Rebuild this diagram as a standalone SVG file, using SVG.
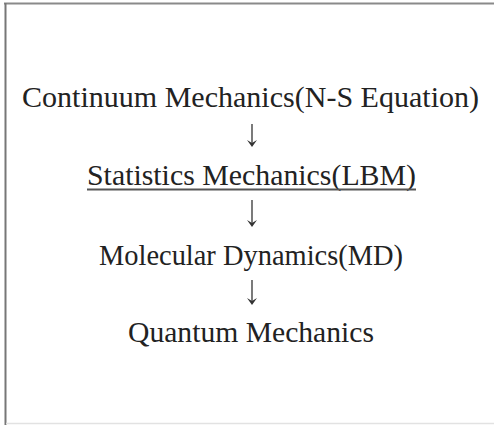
<svg xmlns="http://www.w3.org/2000/svg" width="494" height="425" viewBox="0 0 494 425">
<style>
.t{font-family:"Liberation Serif","Times New Roman",serif;font-size:29px;fill:#222;}
.c{stroke:#333;stroke-width:1.3;fill:none;}
.h{fill:#333;stroke:none;}
</style>
<rect x="0" y="0" width="494" height="425" fill="#fff"/>
<g id="frame">
<line x1="4" y1="3.5" x2="494" y2="3.5" stroke="#8a8a8a" stroke-width="2"/>
<line x1="5.5" y1="3" x2="5.5" y2="425" stroke="#777" stroke-width="2"/>
<line x1="6" y1="423.5" x2="494" y2="423.5" stroke="#e2e2e2" stroke-width="1.5"/>
</g>
<g id="node-continuum"><text class="t" x="22" y="107" textLength="457" lengthAdjust="spacingAndGlyphs">Continuum Mechanics(N-S Equation)</text></g>
<g id="node-statistics"><text class="t" x="87" y="185" textLength="329" lengthAdjust="spacingAndGlyphs">Statistics Mechanics(LBM)</text>
<line x1="87" y1="189.5" x2="416" y2="189.5" stroke="#555" stroke-width="2"/></g>
<g id="node-molecular"><text class="t" x="99" y="265" textLength="304" lengthAdjust="spacingAndGlyphs">Molecular Dynamics(MD)</text></g>
<g id="node-quantum"><text class="t" x="128" y="342" textLength="246" lengthAdjust="spacingAndGlyphs">Quantum Mechanics</text></g>
<g id="connectors">
<line class="c" x1="252" y1="124" x2="252" y2="144"/>
<path class="h" d="M247,140 L252,147 L257,140 L252,143 Z"/>
<line class="c" x1="252" y1="200" x2="252" y2="224"/>
<path class="h" d="M247,220 L252,227 L257,220 L252,223 Z"/>
<line class="c" x1="252" y1="280" x2="252" y2="302"/>
<path class="h" d="M247,298 L252,305 L257,298 L252,301 Z"/>
</g>
</svg>
